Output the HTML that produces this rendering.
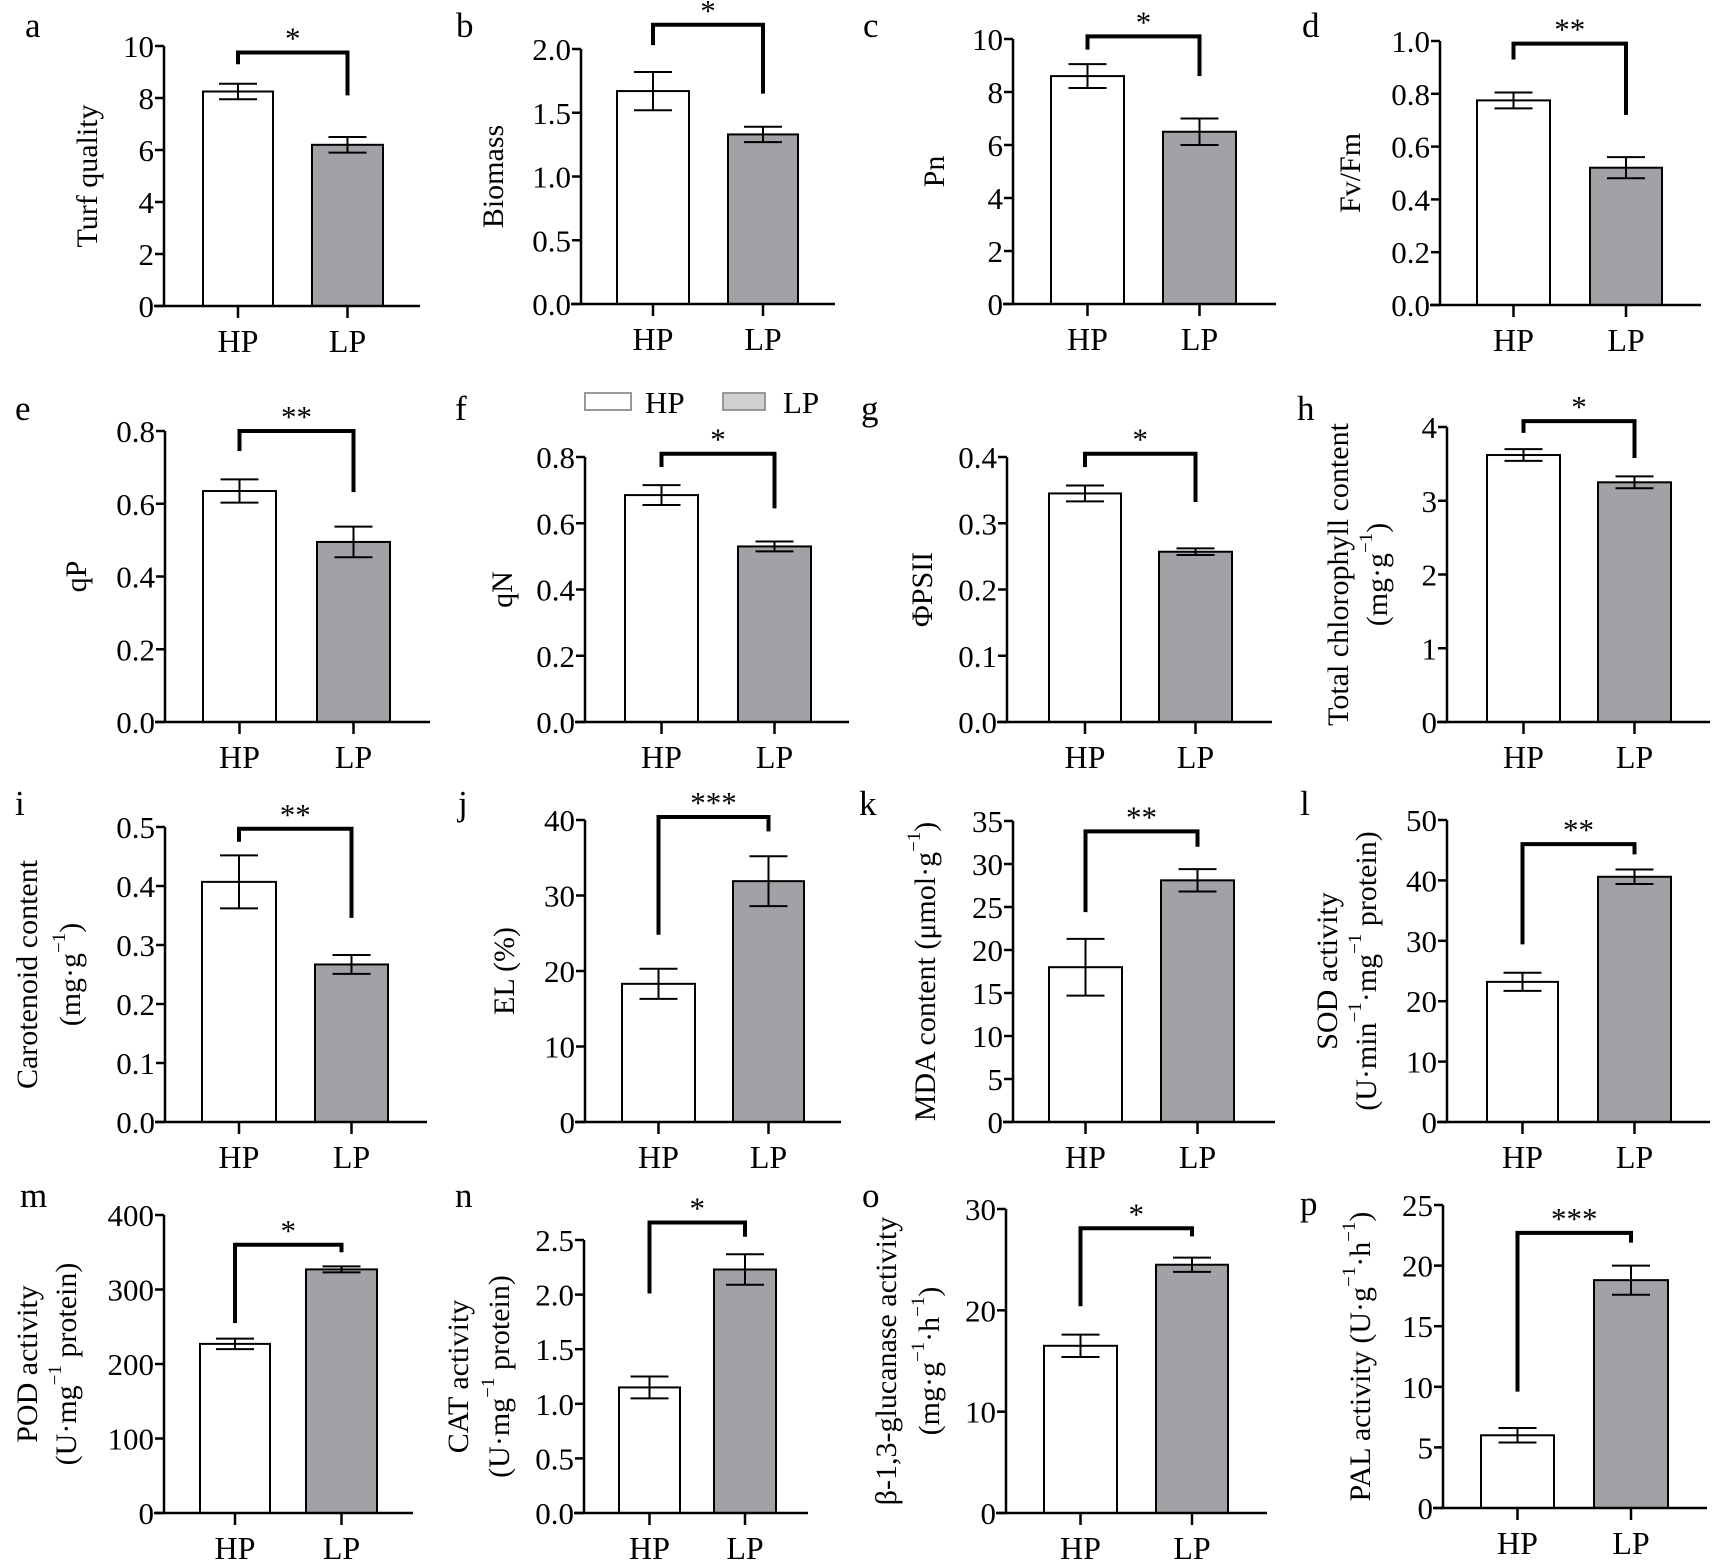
<!DOCTYPE html>
<html><head><meta charset="utf-8">
<style>
html,body{margin:0;padding:0;background:#fff;}
svg{display:block;}
text{font-family:"Liberation Serif","DejaVu Serif",serif;fill:#000;}
</style></head>
<body>
<svg id="fig" width="1713" height="1561" viewBox="0 0 1713 1561" xmlns="http://www.w3.org/2000/svg"></svg>
<script>
// ---- data ----
const panelIds   = ["a","b","c","d","e","f","g","h","i","j","k","l","m","n","o","p"];
const categories = ["HP","LP"];
const hpValues   = [8.25,1.67,8.6,0.775,0.635,0.685,0.345,3.62,0.407,18.3,18.0,23.2,227,1.15,16.5,6.0];
const lpValues   = [6.2,1.33,6.5,0.52,0.495,0.53,0.257,3.25,0.267,31.9,28.1,40.6,327,2.23,24.5,18.8];
const hpErr      = [0.3,0.15,0.45,0.03,0.032,0.03,0.012,0.08,0.045,2.0,3.3,1.5,7,0.1,1.1,0.6];
const lpErr      = [0.3,0.06,0.5,0.04,0.042,0.015,0.005,0.08,0.016,3.3,1.3,1.2,4,0.14,0.7,1.2];
const yMax       = [10,2,10,1,0.8,0.8,0.4,4,0.5,40,35,50,400,2.5,30,25];
const yStep      = [2,0.5,2,0.2,0.2,0.2,0.1,1,0.1,10,5,10,100,0.5,10,5];
const tickDecimals = [0,1,0,1,1,1,1,0,1,0,0,0,0,1,0,0];
const sigLabels  = ["*","*","*","**","**","*","*","*","**","***","**","**","*","*","*","***"];
const bracketTop = [9.75,2.19,10.1,0.99,0.8,0.81,0.405,4.08,0.497,40.4,33.8,46,360,2.66,28.1,22.7];
const bracketHpLeg = [9.3,2.03,9.6,0.93,0.745,0.77,0.385,3.92,0.475,24.8,24.4,29.4,255,2.01,20.4,9.6];
const bracketLpLeg = [8.1,1.65,8.6,0.72,0.632,0.645,0.332,3.58,0.346,38.5,32,44.3,350,2.53,27.3,21.9];
const titles = [
 ["Turf quality"],["Biomass"],["Pn"],["Fv/Fm"],["qP"],["qN"],["ΦPSII"],
 ["Total chlorophyll content","(mg·g^{−1})"],
 ["Carotenoid content","(mg·g^{−1})"],
 ["EL (%)"],["MDA content (μmol·g^{−1})"],
 ["SOD activity","(U·min^{−1}·mg^{−1} protein)"],
 ["POD activity","(U·mg^{−1} protein)"],
 ["CAT activity","(U·mg^{−1} protein)"],
 ["β-1,3-glucanase activity","(mg·g^{−1}·h^{−1})"],
 ["PAL activity (U·g^{−1}·h^{−1})"]
];
// ---- layout (pixels): axisX, top, bottom, hpL, hpR, lpL, lpR, axisEnd, letterX, letterY, titleX list ----
const layout = [
 [164,46,306,203,273,312,383,420,25,37,[87]],
 [581,49,304,617,689,728,798,835,456,37,[493]],
 [1013,39,304,1051,1124,1163,1236,1276,863,37,[934]],
 [1440,41,305,1477,1550,1590,1662,1701,1302,37,[1350]],
 [165,431,722,203,276,317,390,430,15,420,[76]],
 [585,457,722,625,698,738,811,849,455,420,[502]],
 [1007,457,722,1049,1121,1159,1232,1272,861,420,[922]],
 [1447,427,722,1487,1560,1598,1671,1710,1297,420,[1338,1377]],
 [165,827,1122,202,276,315,388,427,15,815,[27,70]],
 [585,820,1122,622,695,733,804,841,458,815,[504]],
 [1013,821,1122,1049,1122,1161,1234,1275,859,815,[925]],
 [1447,820,1122,1487,1558,1598,1671,1710,1300,815,[1327,1366]],
 [164,1215,1513,200,270,306,377,413,20,1207,[27,66]],
 [584,1240,1513,619,680,714,776,808,455,1207,[458,499]],
 [1006,1209,1513,1044,1117,1156,1228,1267,862,1207,[886,929]],
 [1443,1205,1508,1481,1554,1594,1668,1707,1300,1215,[1360]]
];
const NS="http://www.w3.org/2000/svg";
const svg=document.getElementById('fig');
function mk(tag,attrs,parent){const e=document.createElementNS(NS,tag);for(const k in attrs)e.setAttribute(k,attrs[k]);(parent||svg).appendChild(e);return e;}
function addRich(t,str){
  const parts=str.split(/(\^\{[^}]*\})/);
  let up=false;
  parts.forEach(p=>{
    if(!p)return;
    if(p.startsWith('^{')){const ts=mk('tspan',{'font-size':'19',dy:'-11'},t);ts.textContent=p.slice(2,-1);up=true;}
    else{const ts=mk('tspan',up?{dy:'11'}:{},t);ts.textContent=p;up=false;}
  });
}
panelIds.forEach((id,i)=>{
  const L=layout[i];
  const [ax,top,bot,hpL,hpR,lpL,lpR,aend,lx,ly,tx]=L;
  const y=v=>bot-(v/yMax[i])*(bot-top);
  const g=mk('g',{});
  
  
  const lt=mk('text',{x:lx,y:ly,'font-size':'35'},g);lt.textContent=id;
  
  
  const hp=mk('rect',{x:hpL,y:y(hpValues[i]),width:hpR-hpL,height:bot-y(hpValues[i]),fill:'#fff',stroke:'#000','stroke-width':2},g);
  
  
  const lp=mk('rect',{x:lpL,y:y(lpValues[i]),width:lpR-lpL,height:bot-y(lpValues[i]),fill:'#a2a2a6',stroke:'#000','stroke-width':2},g);
  
  
  const hpC=(hpL+hpR)/2, lpC=(lpL+lpR)/2;
  [[hpC,hpValues[i],hpErr[i],'hp'],[lpC,lpValues[i],lpErr[i],'lp']].forEach(([cx,v,e,s])=>{
    const eg=mk('g',{stroke:'#000','stroke-width':2},g);
    
    
    mk('line',{x1:cx,x2:cx,y1:y(v+e),y2:y(v-e)},eg);
    mk('line',{x1:cx-19,x2:cx+19,y1:y(v+e),y2:y(v+e)},eg);
    mk('line',{x1:cx-19,x2:cx+19,y1:y(v-e),y2:y(v-e)},eg);
  });
  const axg=mk('g',{stroke:'#000','stroke-width':2.5,fill:'none'},g);
  
  
  mk('line',{x1:ax,x2:ax,y1:top,y2:bot},axg);
  mk('line',{x1:ax-10,x2:aend,y1:bot,y2:bot},axg);
  const n=Math.round(yMax[i]/yStep[i]);
  for(let k=0;k<=n;k++){
    const v=k*yStep[i];
    mk('line',{x1:ax-9,x2:ax,y1:y(v),y2:y(v)},axg);
    const t=mk('text',{x:ax-10,y:y(v)+11,'font-size':'31','text-anchor':'end',stroke:'none'},g);
    t.textContent=v.toFixed(tickDecimals[i]);
    
    
  }
  [hpC,lpC].forEach((cx,c)=>{
    mk('line',{x1:cx,x2:cx,y1:bot,y2:bot+12},axg);
    const t=mk('text',{x:cx,y:bot+46,'font-size':'32','text-anchor':'middle'},g);
    t.textContent=categories[c];
    
    
  });
  const bg=mk('polyline',{points:`${hpC},${y(bracketHpLeg[i])} ${hpC},${y(bracketTop[i])} ${lpC},${y(bracketTop[i])} ${lpC},${y(bracketLpLeg[i])}`,fill:'none',stroke:'#000','stroke-width':4},g);
  
  
  const st=mk('text',{x:(hpC+lpC)/2,y:y(bracketTop[i])-4,'font-size':'31','text-anchor':'middle'},g);
  st.textContent=sigLabels[i];
  
  
  const cy=(top+bot)/2;
  titles[i].forEach((line,li)=>{
    const x=tx[li];
    const t=mk('text',{x:0,y:0,'font-size':'30','text-anchor':'middle','dominant-baseline':'central',transform:`translate(${x},${cy}) rotate(-90)`},g);
    addRich(t,line);
    
    
  });
});
const lg=mk('g',{});


const b1=mk('rect',{x:585,y:393,width:46,height:17,fill:'#fff',stroke:'#999','stroke-width':2},lg);


const t1=mk('text',{x:645,y:413,'font-size':'31'},lg);t1.textContent='HP';


const b2=mk('rect',{x:723,y:393,width:42,height:17,fill:'#d0d0d0',stroke:'#999','stroke-width':2},lg);


const t2=mk('text',{x:783,y:413,'font-size':'31'},lg);t2.textContent='LP';


</script>
</body></html>
